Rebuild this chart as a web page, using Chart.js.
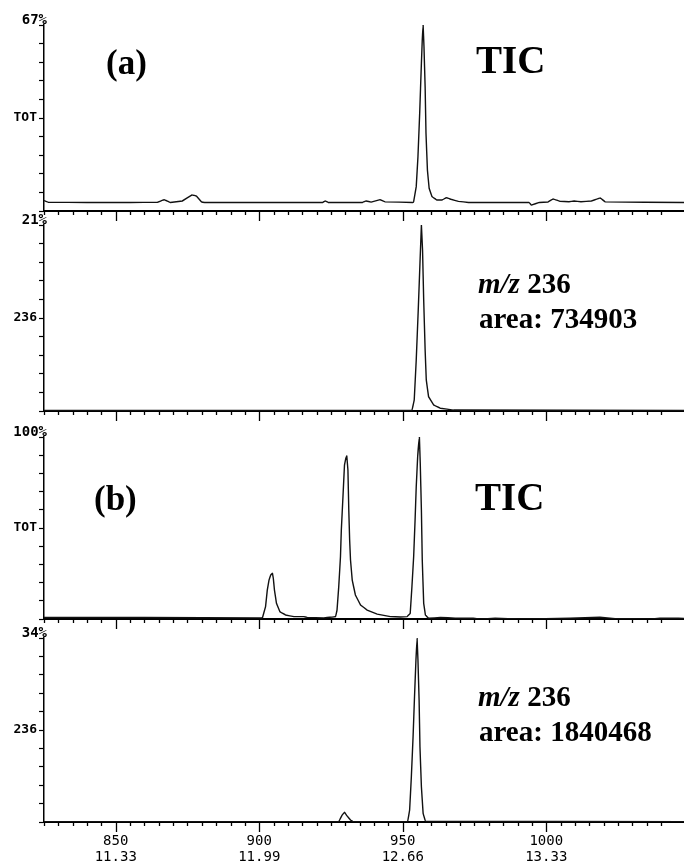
<!DOCTYPE html>
<html>
<head>
<meta charset="utf-8">
<script src="https://cdn.jsdelivr.net/npm/chart.js@4.4.0/dist/chart.umd.min.js"></script>
<style>
  body { margin: 0; background: #fff; }
  #wrap { position: relative; width: 684px; height: 865px; }
  canvas { position: absolute; left: 0; }
</style>
</head>
<body>
<div id="wrap">
  <canvas id="p1" width="684" height="225"></canvas>
  <canvas id="p2" width="684" height="220"></canvas>
  <canvas id="p3" width="684" height="220"></canvas>
  <canvas id="p4" width="684" height="247"></canvas>
</div>
<script>
// Axis text
const topLabels = ['67%', '21%', '100%', '34%'];
const midLabels = ['TOT', '236', 'TOT', '236'];
const scanLabels = [850, 900, 950, 1000];
const timeLabels = ['11.33', '11.99', '12.66', '13.33'];
const areas = ['734903', '1840468'];

// (a) TIC - scan number / % of full scale
const ticScansA = [825, 826.5, 840, 855, 864.5, 866.9, 869, 873.2, 876.6, 878.1, 879.9, 881,
  922.1, 923, 924, 936, 937.2, 939, 942.1, 943.9, 953.5, 953.8, 954.7, 955.3, 955.9, 956.5,
  956.8, 957.1, 957.4, 957.8, 958.1, 958.6, 959.2, 960.2, 961.9, 963.7, 965.2, 966.8, 969.4,
  972.9, 994, 994.8, 997.6, 1000.6, 1002.4, 1004.8, 1007.9, 1009.7, 1012.1, 1015.7, 1018.8,
  1020.6, 1048];
const ticA = [5.6, 4.7, 4.6, 4.6, 4.7, 6.1, 4.6, 5.4, 8.7, 8.0, 4.9, 4.6,
  4.6, 5.4, 4.6, 4.6, 5.4, 4.8, 6.1, 4.9, 4.6, 5.0, 13.1, 29.2, 52.5, 79.4,
  91.9, 100, 88.3, 66.8, 41.8, 22.0, 12.2, 7.7, 5.9, 5.9, 7.2, 6.3, 5.2,
  4.6, 4.6, 3.2, 4.6, 4.8, 6.5, 5.2, 5.0, 5.4, 5.0, 5.4, 7.0,
  4.9, 4.6];

// (a) m/z 236
const ionScansA = [825, 953.2, 954, 954.7, 955.4, 956, 956.5, 956.9, 957.3, 957.8, 958.2,
  959, 960.8, 963.1, 967.7, 1048];
const ionA = [0.3, 0.3, 5.9, 27.4, 54.3, 79.4, 100, 86.6, 59.7, 32.8, 16.7,
  7.7, 3.2, 1.5, 0.5, 0.3];

// (b) TIC
const ticScansB = [825, 860, 900, 901.1, 902.2, 902.8, 903.4, 904, 904.6, 904.9, 905.3, 906,
  907.2, 909.2, 912.1, 915.5, 916.7, 922.5, 926.6, 927.1, 927.7, 928.3, 928.6, 929.2, 929.7,
  930.2, 930.5, 930.9, 931.2, 931.5, 931.8, 932.4, 933.5, 935.3, 937.6, 941.1, 945.7, 949.2,
  951.5, 952.6, 953.2, 953.8, 954.3, 954.7, 955.2, 955.8, 956.1, 956.5, 956.8, 957.3, 957.9,
  959, 963.1, 968.3, 974.6, 977, 982.2, 986.7, 991, 1008.3, 1018.7, 1024, 1036.1, 1039.6,
  1044.1, 1048];
const ticB = [0.8, 0.8, 0.6, 0.6, 6.8, 15.9, 21.4, 24.2, 25.1, 22.4, 15.9, 8.6,
  4.0, 2.2, 1.3, 1.3, 0.9, 0.6, 1.3, 4.9, 17.8, 34.2, 48.9, 68.1, 84.6,
  88.5, 89.6, 81.9, 59.9, 43.4, 32.4, 21.4, 13.2, 7.7, 4.9, 2.7, 1.3, 1.1,
  1.3, 3.1, 17.7, 34.2, 54.4, 72.7, 89.2, 100, 85.6, 59.9, 32.4, 8.6, 2.2,
  0.4, 0.8, 0.5, 0.4, 0, 0.4, 0.2, 0, 0.4, 1.0, 0.2, 0, 0.4,
  0.5, 0.3];

// (b) m/z 236
const ionScansB = [825, 927.7, 928.9, 929.7, 930.6, 931.8, 932.7, 951.7, 952.4, 953, 953.6,
  954.1, 954.6, 955, 955.3, 955.7, 956, 956.5, 957.1, 957.9, 1048];
const ionB = [0.2, 0.2, 3.8, 5.3, 3.3, 1.1, 0.2, 0.2, 6.5, 24.6, 46.4,
  68.1, 88, 99.8, 88, 66.3, 40.9, 19.2, 4.7, 0.5, 0.2];

const serif = '"Liberation Serif", "Times New Roman", serif';
const mono = '"DejaVu Sans Mono", monospace';

const panels = [
  { id: 'p1', top: 0, padTop: 25, xh: 14, scans: ticScansA, values: ticA,
    notes: [
      { x: 106, y: 74, runs: [['(a)', 'bold 35px ' + serif]] },
      { x: 476, y: 73, runs: [['TIC', 'bold 39px ' + serif]] }
    ] },
  { id: 'p2', top: 205, padTop: 20, xh: 14, scans: ionScansA, values: ionA,
    notes: [
      { x: 478, y: 293, runs: [['m/z', 'italic bold 29px ' + serif], [' 236', 'bold 29px ' + serif]] },
      { x: 479, y: 328, runs: [['area: ' + areas[0], 'bold 29px ' + serif]] }
    ] },
  { id: 'p3', top: 417, padTop: 20, xh: 18, scans: ticScansB, values: ticB,
    notes: [
      { x: 94, y: 510, runs: [['(b)', 'bold 35px ' + serif]] },
      { x: 475, y: 510, runs: [['TIC', 'bold 39px ' + serif]] }
    ] },
  { id: 'p4', top: 618, padTop: 20, xh: 43, scans: ionScansB, values: ionB, last: true,
    notes: [
      { x: 478, y: 706, runs: [['m/z', 'italic bold 29px ' + serif], [' 236', 'bold 29px ' + serif]] },
      { x: 479, y: 741, runs: [['area: ' + areas[1], 'bold 29px ' + serif]] }
    ] }
];

// x tick marks: short every 5 scans, long every 50
const tickMarks = {
  id: 'tickMarks',
  afterDraw(chart) {
    const s = chart.scales.x, ctx = chart.ctx;
    ctx.save();
    ctx.strokeStyle = '#000';
    ctx.lineWidth = 1.3;
    s.ticks.forEach(t => {
      if (Math.abs(t.value / 5 - Math.round(t.value / 5)) > 1e-6) return;
      const px = Math.round(s.getPixelForValue(t.value)) + 0.5;
      const len = Math.round(t.value) % 50 === 0 ? 10 : 4;
      ctx.beginPath();
      ctx.moveTo(px, s.top);
      ctx.lineTo(px, s.top + len);
      ctx.stroke();
    });
    ctx.restore();
  }
};

// full-scale label + panel captions
const panelText = {
  id: 'panelText',
  afterDraw(chart, args, opts) {
    const ctx = chart.ctx, area = chart.chartArea;
    ctx.save();
    ctx.fillStyle = '#000';
    ctx.textBaseline = 'alphabetic';
    ctx.font = 'bold 14px ' + mono;
    ctx.textAlign = 'right';
    ctx.fillText(opts.topLabel, area.left + 3, area.top - 1);
    ctx.textAlign = 'left';
    opts.notes.forEach(n => {
      let x = n.x;
      n.runs.forEach(([t, f]) => {
        ctx.font = f;
        ctx.fillText(t, x, n.y - opts.top);
        x += ctx.measureText(t).width;
      });
    });
    ctx.restore();
  }
};

panels.forEach((p, i) => {
  const el = document.getElementById(p.id);
  el.style.top = p.top + 'px';
  new Chart(el, {
    type: 'line',
    data: {
      datasets: [{
        data: p.scans.map((s, k) => ({ x: s, y: p.values[k] })),
        borderColor: '#111',
        borderWidth: 1.4,
        pointRadius: 0,
        tension: 0.01,
        fill: false
      }]
    },
    options: {
      responsive: false,
      animation: false,
      events: [],
      layout: { autoPadding: false, padding: { top: p.padTop, left: 0, right: 0, bottom: 0 } },
      plugins: {
        legend: { display: false },
        tooltip: { enabled: false },
        panelText: { topLabel: topLabels[i], notes: p.notes, top: p.top }
      },
      scales: {
        x: {
          type: 'linear', min: 825, max: 1048,
          afterFit: s => { s.height = p.xh; s.paddingLeft = 0; s.paddingRight = 0; },
          ticks: {
            stepSize: 5, autoSkip: false, maxRotation: 0, padding: 12,
            color: '#000', font: { family: mono, size: 14, lineHeight: 1.1 },
            callback: v => {
              const k = scanLabels.indexOf(v);
              return p.last && k >= 0 ? [String(v), timeLabels[k]] : '';
            }
          },
          grid: { drawOnChartArea: false, drawTicks: false },
          border: { display: true, color: '#000', width: 2 }
        },
        y: {
          min: 0, max: 100,
          afterFit: s => { s.width = 44; s.paddingTop = 0; s.paddingBottom = 0; },
          ticks: {
            stepSize: 10, autoSkip: false, padding: 2,
            color: '#000', font: { family: mono, size: 13, weight: 'bold' },
            callback: v => v === 50 ? midLabels[i] : ''
          },
          grid: { drawOnChartArea: false, drawTicks: true, tickLength: 5, tickColor: '#000', tickWidth: 1.2 },
          border: { display: true, color: '#000', width: 1.5 }
        }
      }
    },
    plugins: [tickMarks, panelText]
  });
});
</script>
</body>
</html>
